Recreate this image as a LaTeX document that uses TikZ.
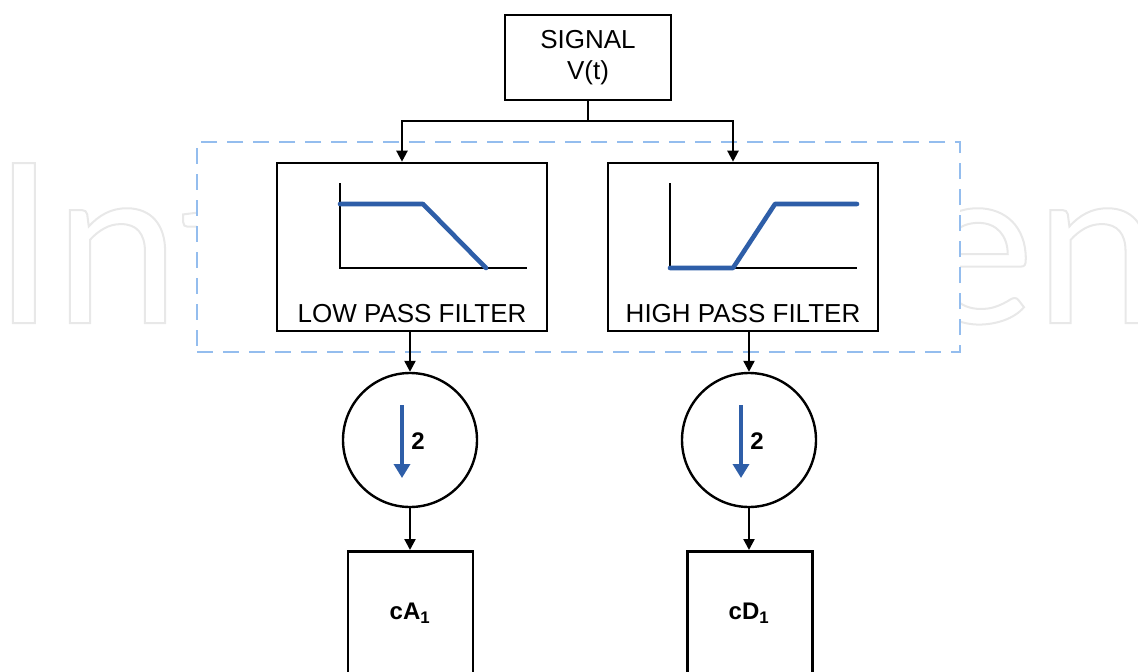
\documentclass[tikz,border=0pt]{standalone}
\usepackage{fontspec}
\setmainfont{Liberation Sans}
\newfontfamily\wmfont{Lato}
\usetikzlibrary{arrows.meta}
\definecolor{graphblue}{HTML}{2E5EA8}
\definecolor{dashblue}{HTML}{94BDEE}
\definecolor{wmgray}{HTML}{E8E8E8}
\begin{document}
\begin{tikzpicture}[x=1pt,y=-1pt,
  box/.style={draw=black,line width=2.6pt,fill=white,inner sep=0pt},
  circ/.style={circle,draw=black,line width=2.4pt,fill=white,inner sep=0pt,minimum size=134pt},
  lbl/.style={inner sep=0pt,font=\fontsize{26}{31}\selectfont},
  bold/.style={inner sep=0pt,font=\bfseries\fontsize{24}{24}\selectfont},
  conn/.style={line width=2.3pt},
  arr/.style={line width=2.3pt,-{Triangle[width=11pt,length=11pt]}},
  axis/.style={line width=2.2pt},
  curve/.style={graphblue,line width=4.6pt,line cap=round,line join=round},
  downarr/.style={graphblue,line width=3.4pt,-{Triangle[width=16pt,length=14pt]}},
  dashframe/.style={draw=dashblue,line width=1.5pt,dash pattern=on 16pt off 10pt,fill=white,inner sep=0pt}]
\useasboundingbox (0,0) rectangle (1138,672);
\clip (0,0) rectangle (1138,672);
% watermark
\begin{scope}
\clip (0,0) rectangle (1138,350);
\node[anchor=base west,inner sep=0pt,text=wmgray] (wm) at (-8,323)
  {\scalebox{1.013}[1]{\wmfont\fontsize{223}{223}\selectfont\special{pdf:literal direct 1 Tr 2 w}IntechOpen\special{pdf:literal direct 0 Tr}}};
\end{scope}
% group frame
\node[dashframe,minimum width=763pt,minimum height=210pt] (grp) at (578.5,247) {};
% signal
\node[box,minimum width=166pt,minimum height=85pt,align=center,font=\fontsize{26}{31}\selectfont] (sig) at (588,57.5) {SIGNAL\\V(t)};
% filters
\node[box,minimum width=270pt,minimum height=168pt] (lpf) at (412,247) {};
\node[lbl,anchor=base] (lpft) at (412,322) {LOW PASS FILTER};
\node[box,minimum width=270pt,minimum height=168pt] (hpf) at (743,247) {};
\node[lbl,anchor=base] (hpft) at (743,322) {HIGH PASS FILTER};
\begin{scope}[shift={(lpf.center)}]
  \draw[axis] (-72,-64) -- (-72,21) -- (115,21);
  \draw[curve] (-72,-43) -- (11,-43) -- (74,21);
\end{scope}
\begin{scope}[shift={(hpf.center)}]
  \draw[axis] (-73,-64) -- (-73,21) -- (114,21);
  \draw[curve] (-73,21) -- (-10,21) -- (32,-43) -- (114,-43);
\end{scope}
% downsamplers
\node[circ] (c1) at (410,440) {};
\node[circ] (c2) at (749,440) {};
\begin{scope}[shift={(c1.center)}]
  \coordinate (a1s) at (-8,-35);
  \coordinate (a1e) at (-8,38);
\end{scope}
\begin{scope}[shift={(c2.center)}]
  \coordinate (a2s) at (-8,-35);
  \coordinate (a2e) at (-8,38);
\end{scope}
\draw[downarr] (a1s) -- (a1e);
\draw[downarr] (a2s) -- (a2e);
\node[bold] (two1) at (418,441) {2};
\node[bold] (two2) at (757,441) {2};
% outputs
\node[box,minimum width=125pt,minimum height=200pt,anchor=north] (ca) at (410.5,550) {};
\node[bold] (cat) at (410,613) {cA\textsubscript{1}};
\node[box,minimum width=125pt,minimum height=200pt,anchor=north] (cd) at (750,550) {};
\node[bold] (cdt) at (749,613) {cD\textsubscript{1}};
% connectors
\coordinate (j) at (588,121);
\draw[conn] (sig.south) -- (j);
\draw[arr] (j) -| ([xshift=-10pt]lpf.north);
\draw[arr] (j) -| ([xshift=-10pt]hpf.north);
\draw[arr] (c1.north |- lpf.south) -- (c1.north);
\draw[arr] (c2.north |- hpf.south) -- (c2.north);
\draw[arr] (c1.south) -- (c1.south |- ca.north);
\draw[arr] (c2.south) -- (c2.south |- cd.north);
\end{tikzpicture}
\end{document}
